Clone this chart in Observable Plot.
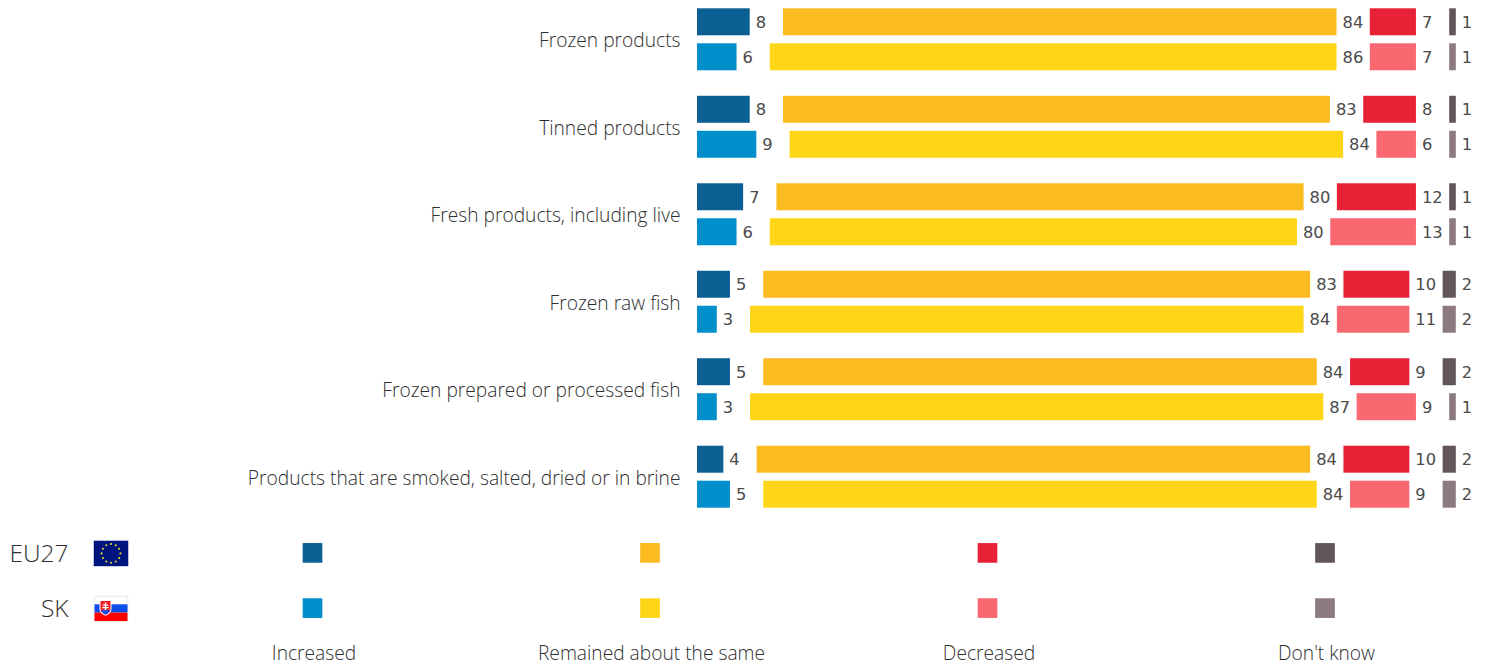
<!DOCTYPE html>
<html>
<head>
<meta charset="utf-8">
<script src="https://cdn.jsdelivr.net/npm/d3@7"></script>
<script src="https://cdn.jsdelivr.net/npm/@observablehq/plot@0.6"></script>
<style>
  html, body { margin: 0; padding: 0; background: #fff; overflow: hidden; }
  svg { display: block; }
</style>
</head>
<body>
<div id="chart"></div>
<script>
// Survey results: change in consumption by product type, EU27 against Slovakia (%)
const categories = [
  "Frozen products",
  "Tinned products",
  "Fresh products, including live",
  "Frozen raw fish",
  "Frozen prepared or processed fish",
  "Products that are smoked, salted, dried or in brine"
];
const responses = ["Increased", "Remained about the same", "Decreased", "Don't know"];
const regions = ["EU27", "SK"];

const eu27Increased = [8, 8, 7, 5, 5, 4];
const eu27Same = [84, 83, 80, 83, 84, 84];
const eu27Decreased = [7, 8, 12, 10, 9, 10];
const eu27DontKnow = [1, 1, 1, 2, 2, 2];

const skIncreased = [6, 9, 6, 3, 3, 5];
const skSame = [86, 84, 80, 84, 87, 84];
const skDecreased = [7, 6, 13, 11, 9, 9];
const skDontKnow = [1, 1, 1, 2, 1, 2];

const eu27Colors = ["#0b5f92", "#fbbb21", "#e82236", "#62555b"];
const skColors = ["#008fcb", "#ffd617", "#f96770", "#8c7a7e"];

// Room left after each segment for its value label, in percentage points
const labelGap = 5.05;

const valuesByRegion = {
  EU27: [eu27Increased, eu27Same, eu27Decreased, eu27DontKnow],
  SK: [skIncreased, skSame, skDecreased, skDontKnow]
};

const rows = [];
for (const region of regions) {
  categories.forEach((category, c) => {
    let start = 0;
    responses.forEach((response, r) => {
      const value = valuesByRegion[region][r][c];
      rows.push({category, region, response, value, x1: start, x2: start + value, key: region + response});
      start += value + labelGap;
    });
  });
}

const colorDomain = regions.flatMap((g) => responses.map((r) => g + r));
const colorRange = [...eu27Colors, ...skColors];
const textColor = "#2e2e2e";
const baseStyle = {fontFamily: '"Open Sans", sans-serif', fontWeight: 300};

const bars = Plot.plot({
  width: 1488,
  height: 516,
  marginTop: 0,
  marginBottom: 0,
  marginLeft: 697,
  marginRight: 32.2,
  style: baseStyle,
  x: {domain: [0, 115.15], axis: null},
  y: {domain: regions, paddingInner: 0.2286, paddingOuter: 0, round: false, axis: null},
  fy: {domain: categories, paddingInner: 0.2914, paddingOuter: 0.0949, round: false, label: null},
  color: {domain: colorDomain, range: colorRange},
  marks: [
    Plot.axisFy({
      anchor: "left",
      tickSize: 0,
      tickPadding: 17,
      fontSize: 19.2,
      fill: textColor,
      label: null,
      dy: 1.5
    }),
    Plot.barX(rows, {fy: "category", y: "region", x1: "x1", x2: "x2", fill: "key"}),
    Plot.text(rows, {
      fy: "category",
      y: "region",
      x: "x2",
      text: "value",
      textAnchor: "start",
      dx: 5.5,
      dy: 0.5,
      fontFamily: '"DejaVu Sans", sans-serif',
      fontWeight: 400,
      fontSize: 16.3,
      fill: "#4a4a4a"
    })
  ]
});

// Flags for the legend rows, as small SVG images
const euStars = d3.range(12).map((i) => {
  const a = (i * Math.PI) / 6;
  return `<circle cx="${(17.5 + 9.4 * Math.sin(a)).toFixed(2)}" cy="${(13 - 9.4 * Math.cos(a)).toFixed(2)}" r="1.05" fill="#e6d92c"/>`;
}).join("");
const euFlag = `<svg xmlns="http://www.w3.org/2000/svg" width="35" height="26" viewBox="0 0 35 26"><rect width="35" height="26" fill="#00147e"/>${euStars}</svg>`;
const skFlag = `<svg xmlns="http://www.w3.org/2000/svg" width="35" height="26" viewBox="0 0 35 26"><rect width="35" height="26" fill="#fff"/><rect x=".5" y=".5" width="34" height="25" fill="none" stroke="#e4e4e4"/><rect x="1" y="8.7" width="33" height="8.3" fill="#0b4ee8"/><rect x="1" y="17" width="33" height="8.5" fill="#f00"/><path d="M6 4.5h12v8.5c0 4-3 6-6 7.2-3-1.200-6-3.200-6-7.200z" fill="#fff"/><path d="M7 5.500h10v7.500c0 3.400-2.500 5-5 6.100-2.500-1.100-5-2.700-5-6.100z" fill="#ee1c25"/><path d="M11.300 7h1.400v2h2v1.200h-2v1.300h2.600v1.200h-2.600v2.300h-1.400v-2.300h-2.600v-1.200h2.600v-1.300h-2v-1.200h2z" fill="#fff"/><path d="M7.800 15.300c1-1.300 2.500-1.300 4.200-.5 1.700-.8 3.200-.8 4.200.5-1 1.800-2.500 2.800-4.200 3.600-1.700-.8-3.200-1.800-4.200-3.600z" fill="#0b4ee8"/></svg>`;
const flagSrc = {
  EU27: "data:image/svg+xml," + encodeURIComponent(euFlag),
  SK: "data:image/svg+xml," + encodeURIComponent(skFlag)
};

const keyCells = regions.flatMap((region) =>
  responses.map((response) => ({region, response, key: region + response}))
);

const legend = Plot.plot({
  width: 1488,
  height: 151,
  marginTop: 0,
  marginBottom: 21,
  marginLeft: 68,
  marginRight: 0,
  style: baseStyle,
  x: {type: "point", domain: responses, range: [312, 1324.5], padding: 0, round: false, label: null},
  y: {type: "point", domain: regions, range: [36.4, 91.6], padding: 0, round: false, label: null},
  color: {domain: colorDomain, range: colorRange},
  marks: [
    Plot.axisY({anchor: "left", tickSize: 0, tickPadding: 0, fontSize: 24.5, fill: textColor, label: null, dy: 1.5}),
    Plot.axisX({anchor: "bottom", tickSize: 0, tickPadding: 0, fontSize: 19.2, fill: textColor, label: null, dx: 1.5}),
    Plot.image(regions, {
      y: (d) => d,
      frameAnchor: "left",
      dx: 42.5,
      dy: 0.5,
      width: 35,
      height: 26,
      preserveAspectRatio: "none",
      src: (d) => flagSrc[d]
    }),
    Plot.dot(keyCells, {x: "response", y: "region", symbol: "square", r: 11.1, fill: "key", stroke: null})
  ]
});

document.getElementById("chart").append(bars, legend);
</script>
</body>
</html>
